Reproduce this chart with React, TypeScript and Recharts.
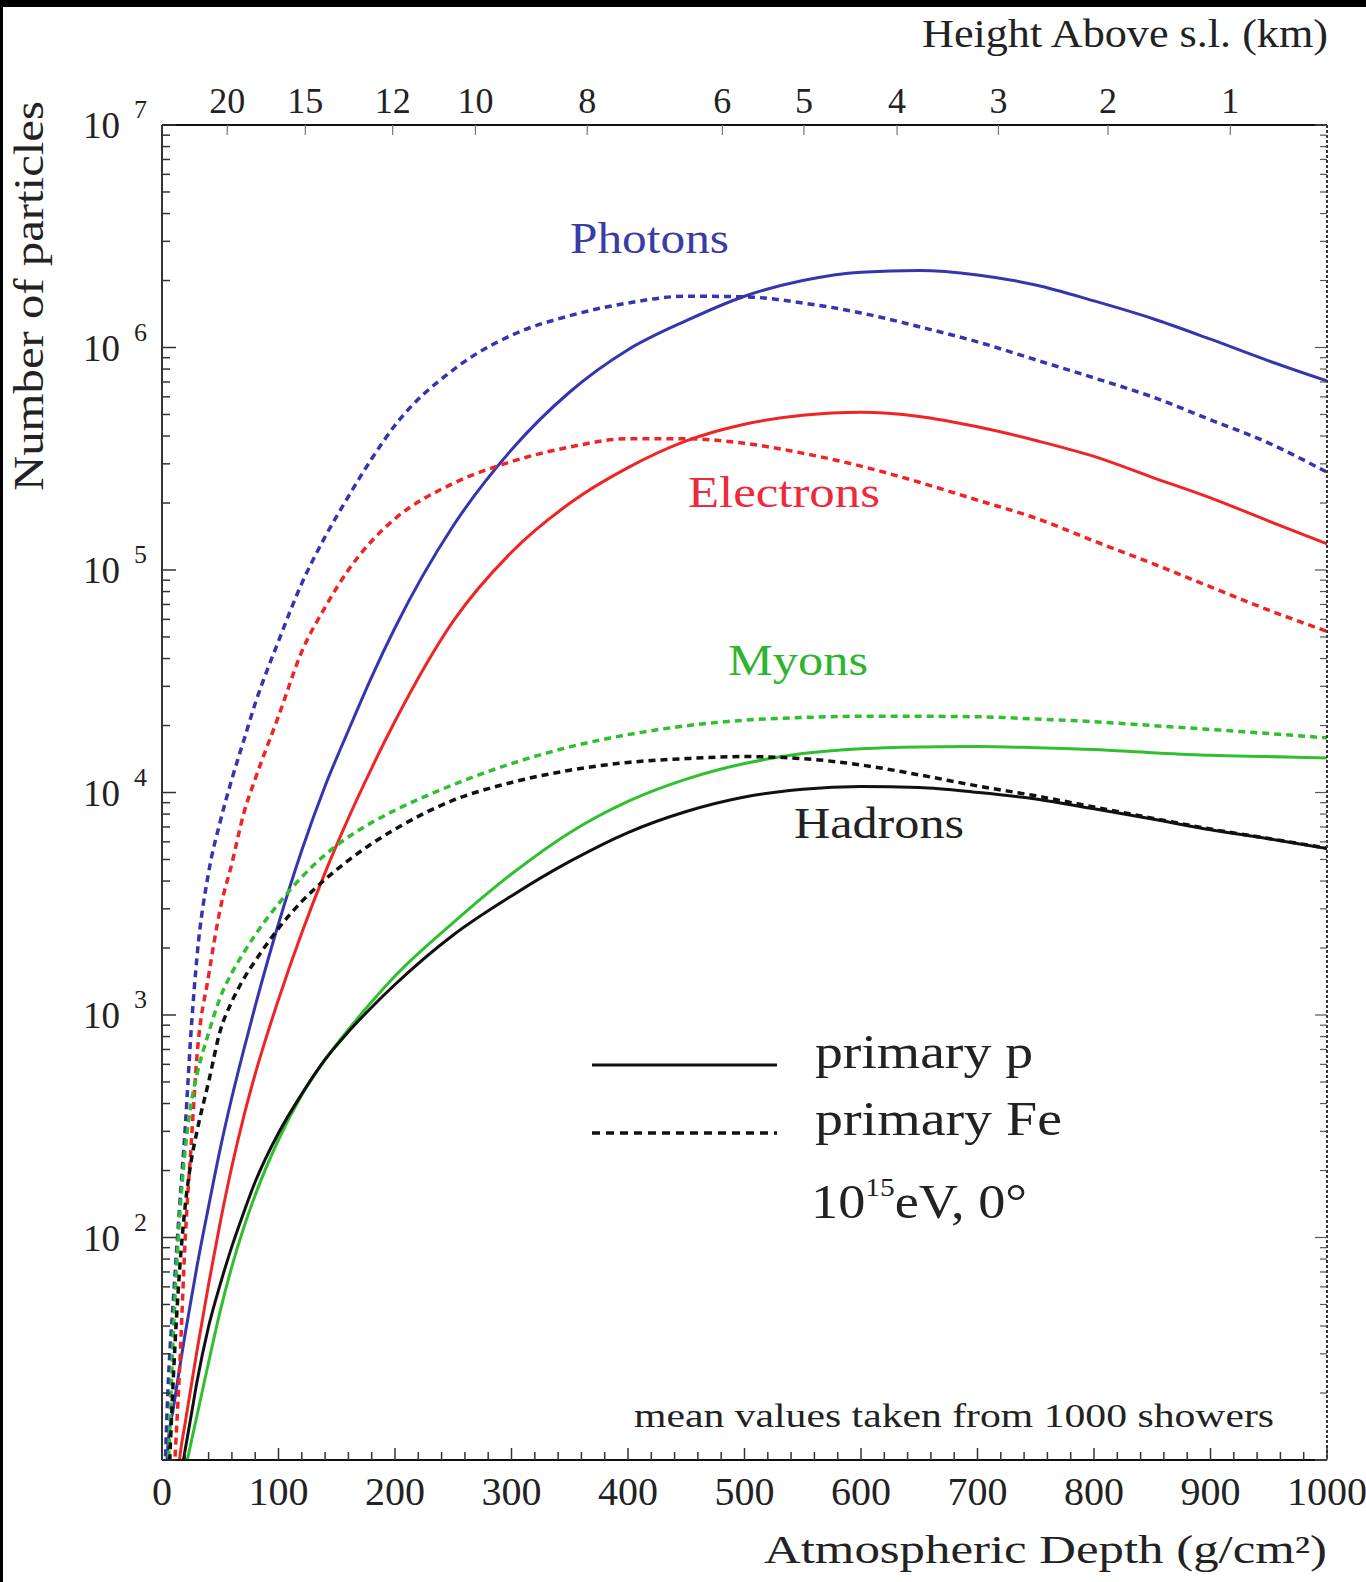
import React from 'react';
import { LineChart, Line, XAxis, YAxis } from 'recharts';

// Atmospheric depth grid (g/cm^2)
const depth = [0, 5, 10, 15, 20, 25, 30, 40, 50, 60, 70, 80, 100, 120, 140, 160, 180, 200, 250, 300, 350, 400, 450, 500, 550, 600, 650, 700, 750, 800, 850, 900, 950, 1000];

// primary p (solid)
const photonsP = [2, 11.5, 17.4, 25.7, 37.2, 52.5, 74, 138, 251, 427, 692, 1096, 2570, 5500, 10700, 19000, 33100, 55000, 158000, 347000, 631000, 977000, 1320000, 1700000, 2000000, 2180000, 2220000, 2120000, 1910000, 1620000, 1350000, 1090000, 871000, 708000];
const electronsP = [null, null, 5, 10, 14.8, 21.4, 30.9, 61.7, 117, 209, 347, 543, 1175, 2344, 4365, 7674, 12880, 20890, 58880, 120200, 199500, 288400, 380200, 451900, 495500, 511700, 490000, 440000, 382000, 324000, 261000, 211000, 166000, 131000];
const myonsP = [null, null, null, 7, 9.1, 12, 15.8, 27.5, 46.8, 74.1, 110, 155, 275, 437, 631, 861, 1148, 1496, 2600, 4300, 6600, 9120, 11480, 13490, 14960, 15740, 16030, 16100, 15900, 15600, 15100, 14700, 14500, 14300];
const hadronsP = [null, null, null, 7.9, 11.2, 15.8, 22.4, 39.8, 61.7, 91.2, 129, 178, 295, 442, 631, 841, 1084, 1371, 2290, 3430, 4900, 6610, 8220, 9550, 10350, 10640, 10520, 10000, 9350, 8450, 7600, 6800, 6200, 5600];

// primary Fe (dashed)
const photonsFe = [3, 20, 55, 135, 316, 851, 1820, 4370, 7410, 11500, 17000, 25100, 47900, 87100, 141000, 214000, 316000, 447000, 794000, 1135000, 1390000, 1585000, 1700000, 1690000, 1585000, 1430000, 1240000, 1060000, 880000, 730000, 600000, 473000, 372000, 275000];
const electronsFe = [null, 3, 8, 25, 100, 260, 650, 1500, 3000, 4800, 8000, 11500, 22000, 43000, 68000, 100000, 135000, 170000, 245000, 307000, 357000, 389000, 389000, 371000, 335000, 293000, 248000, 206000, 171000, 135000, 107000, 84000, 66000, 53000];
const myonsFe = [null, 8, 40, 120, 250, 400, 540, 830, 1200, 1550, 1900, 2290, 3160, 4170, 5250, 6310, 7330, 8320, 10840, 13490, 16030, 18200, 19950, 21130, 21730, 22000, 22000, 21900, 21400, 20800, 20000, 19200, 18400, 17600];
const hadronsFe = [null, 6, 25, 70, 140, 220, 300, 500, 850, 1150, 1450, 1750, 2450, 3240, 4070, 4950, 5890, 6840, 9230, 11090, 12590, 13650, 14200, 14500, 14200, 13300, 12000, 10700, 9660, 8610, 7670, 6850, 6210, 5620];

// Axis ticks
const bottomLabels = [0, 100, 200, 300, 400, 500, 600, 700, 800, 900, 1000];
const bottomTicks = Array.from({ length: 51 }, (_, i) => i * 20);
const topDepths = [56, 123, 198, 269, 365, 481, 551, 631, 718, 812, 917];
const topHeights = ['20', '15', '12', '10', '8', '6', '5', '4', '3', '2', '1'];
const decades = [10, 100, 1000, 10000, 100000, 1000000, 10000000];
const labeledExponents = [2, 3, 4, 5, 6, 7];
const yTicks: number[] = [];
decades.forEach((d, i) => {
  if (i === decades.length - 1) { yTicks.push(d); return; }
  for (let m = 1; m <= 9; m++) yTicks.push(d * m);
});

const rows = depth.map((d, i) => ({
  depth: d,
  photonsP: photonsP[i], electronsP: electronsP[i], myonsP: myonsP[i], hadronsP: hadronsP[i],
  photonsFe: photonsFe[i], electronsFe: electronsFe[i], myonsFe: myonsFe[i], hadronsFe: hadronsFe[i],
}));

const SERIF = '"Liberation Serif", "Times New Roman", "DejaVu Serif", serif';
const BLUE = '#3535b0';
const RED = '#f02424';
const GREEN = '#2fbf2f';
const BLACK = '#111111';

const isDecade = (v: number) => {
  const e = Math.round(Math.log10(v));
  return Math.abs(v - Math.pow(10, e)) < 1e-6 * v;
};

const LeftTick = (props: any) => {
  const { x, y, payload } = props;
  const v = payload.value;
  const major = isDecade(v);
  const e = Math.round(Math.log10(v));
  return (
    <g>
      <line x1={x} x2={x + (major ? 14 : 8)} y1={y} y2={y} stroke="#333" strokeWidth={1.5} />
      {major && labeledExponents.includes(e) && (
        <g fontFamily={SERIF} fill="#222">
          <text x={x - 42} y={y + 13} textAnchor="end" fontSize={37}>10</text>
          <text x={x - 15} y={y - 7} textAnchor="end" fontSize={26}>{e}</text>
        </g>
      )}
    </g>
  );
};

const RightTick = (props: any) => {
  const { x, y, payload } = props;
  const major = isDecade(payload.value);
  return <line x1={x} x2={x - (major ? 12 : 7)} y1={y} y2={y} stroke="#555" strokeWidth={1.2} />;
};

const BottomTick = (props: any) => {
  const { x, y, payload } = props;
  const v = payload.value;
  const major = bottomLabels.includes(v);
  return (
    <g>
      <line x1={x} x2={x} y1={y} y2={y - (major ? 12 : 8)} stroke="#333" strokeWidth={1.5} />
      {major && (
        <text x={x} y={y + 45} textAnchor="middle" fontSize={40} fontFamily={SERIF} fill="#222">{v}</text>
      )}
    </g>
  );
};

const TopTick = (props: any) => {
  const { x, y, payload } = props;
  const idx = topDepths.indexOf(payload.value);
  return (
    <g>
      <line x1={x} x2={x} y1={y} y2={y + 10} stroke="#777" strokeWidth={1.2} />
      <text x={x} y={y - 12} textAnchor="middle" fontSize={36} fontFamily={SERIF} fill="#222">{topHeights[idx]}</text>
    </g>
  );
};

const seriesList = [
  { key: 'photonsP', color: BLUE, dashed: false },
  { key: 'photonsFe', color: BLUE, dashed: true },
  { key: 'electronsP', color: RED, dashed: false },
  { key: 'electronsFe', color: RED, dashed: true },
  { key: 'myonsFe', color: GREEN, dashed: true },
  { key: 'myonsP', color: GREEN, dashed: false },
  { key: 'hadronsFe', color: BLACK, dashed: true },
  { key: 'hadronsP', color: BLACK, dashed: false },
];

export default function App() {
  return (
    <div style={{ position: 'absolute', left: 0, top: 0, width: 1366, height: 1582, background: '#ffffff', overflow: 'hidden' }}>
      <LineChart width={1366} height={1582} data={rows} margin={{ top: 85, right: 37, bottom: 62, left: 62 }}>
        <XAxis xAxisId="bottom" dataKey="depth" type="number" domain={[0, 1000]} allowDataOverflow
          ticks={bottomTicks} interval={0} height={60} tickSize={0} tickMargin={0} tickLine={false}
          tick={<BottomTick />} axisLine={{ stroke: '#111', strokeWidth: 2 }} />
        <XAxis xAxisId="top" dataKey="depth" orientation="top" type="number" domain={[0, 1000]} allowDataOverflow
          ticks={topDepths} interval={0} height={40} tickSize={0} tickMargin={0} tickLine={false}
          tick={<TopTick />} axisLine={{ stroke: '#111', strokeWidth: 2 }} />
        <YAxis yAxisId="left" type="number" scale="log" domain={[10, 10000000]} allowDataOverflow
          ticks={yTicks} interval={0} width={100} tickSize={0} tickMargin={0} tickLine={false}
          tick={<LeftTick />} axisLine={{ stroke: '#333', strokeWidth: 2 }} />
        <YAxis yAxisId="right" orientation="right" type="number" scale="log" domain={[10, 10000000]} allowDataOverflow
          ticks={yTicks} interval={0} width={2} tickSize={0} tickMargin={0} tickLine={false}
          tick={<RightTick />} axisLine={{ stroke: '#333', strokeWidth: 2, strokeDasharray: '3 2' }} />
        <Line xAxisId="top" yAxisId="right" dataKey="photonsP" stroke="none" strokeWidth={0}
          dot={false} activeDot={false} isAnimationActive={false} legendType="none" />
        {seriesList.map((s) => (
          <Line key={s.key} xAxisId="bottom" yAxisId="left" dataKey={s.key} type="monotone"
            stroke={s.color} strokeWidth={s.dashed ? 3.5 : 3} strokeDasharray={s.dashed ? '7 5' : undefined}
            dot={false} activeDot={false} connectNulls={false} isAnimationActive={false} />
        ))}
      </LineChart>

      <svg width={1366} height={1582} style={{ position: 'absolute', left: 0, top: 0, pointerEvents: 'none' }}>
        <g fontFamily={SERIF}>
          <text x={922} y={47} fontSize={40} fill="#222" textLength={406} lengthAdjust="spacingAndGlyphs">Height Above s.l. (km)</text>
          <text x={764} y={1563} fontSize={40} fill="#222" textLength={563} lengthAdjust="spacingAndGlyphs">Atmospheric Depth (g/cm²)</text>
          <text transform="translate(43,296) rotate(-90)" textAnchor="middle" fontSize={42} fill="#222" textLength={390} lengthAdjust="spacingAndGlyphs">Number of particles</text>

          <text x={570} y={253} fontSize={44} fill="#3b3ba8" textLength={159} lengthAdjust="spacingAndGlyphs">Photons</text>
          <text x={688} y={507} fontSize={44} fill="#ec2a3a" textLength={192} lengthAdjust="spacingAndGlyphs">Electrons</text>
          <text x={728} y={675} fontSize={44} fill="#2db52d" textLength={140} lengthAdjust="spacingAndGlyphs">Myons</text>
          <text x={794} y={838} fontSize={44} fill="#222" textLength={170} lengthAdjust="spacingAndGlyphs">Hadrons</text>

          <line x1={592} x2={777} y1={1065} y2={1065} stroke="#111" strokeWidth={3} />
          <line x1={592} x2={777} y1={1133} y2={1133} stroke="#111" strokeWidth={3.5} strokeDasharray="8 6" />
          <text x={815} y={1068} fontSize={48} fill="#222" textLength={218} lengthAdjust="spacingAndGlyphs">primary p</text>
          <text x={815} y={1135} fontSize={48} fill="#222" textLength={247} lengthAdjust="spacingAndGlyphs">primary Fe</text>
          <text x={811} y={1218} fontSize={48} fill="#222" textLength={216} lengthAdjust="spacingAndGlyphs">
            10<tspan fontSize={26} dy={-22}>15</tspan><tspan fontSize={48} dy={22}>eV, 0°</tspan>
          </text>

          <text x={634} y={1427} fontSize={34} fill="#222" textLength={640} lengthAdjust="spacingAndGlyphs">mean values taken from 1000 showers</text>
        </g>
      </svg>

      <div style={{ position: 'absolute', left: 0, top: 0, width: 1366, height: 7, background: '#000' }} />
      <div style={{ position: 'absolute', left: 0, top: 0, width: 3, height: 1582, background: '#000' }} />
    </div>
  );
}
